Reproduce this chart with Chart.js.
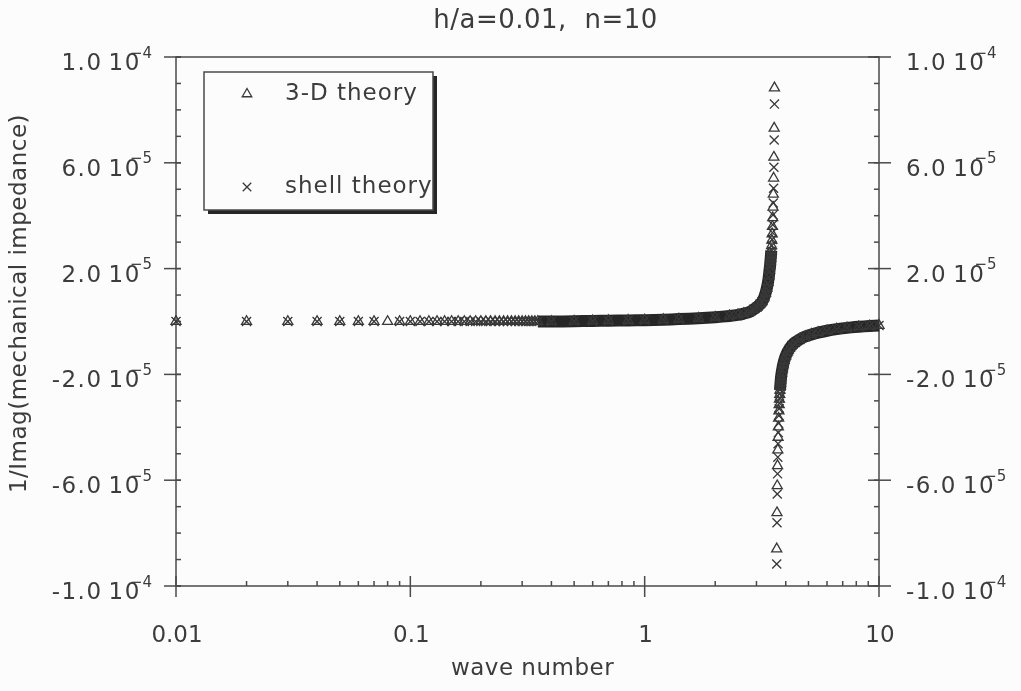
<!DOCTYPE html>
<html>
<head>
<meta charset="utf-8">
<script src="https://cdn.jsdelivr.net/npm/chart.js@4.4.1/dist/chart.umd.min.js"></script>
<style>
  html, body { margin: 0; padding: 0; background: #fcfcfc; }
  #caja { width: 1021px; height: 691px; }
</style>
</head>
<body>
<div id="caja"><canvas id="grafica"></canvas></div>
<script>
// textos
const titulo = 'h/a=0.01,  n=10';
const tituloX = 'wave number';
const tituloY = '1/Imag(mechanical impedance)';
const nombres = ['3-D theory', 'shell theory'];

// numero de onda (eje x, log)
const waveNumber = [
  0.01, 0.02, 0.03, 0.04, 0.05, 0.06, 0.07, 0.08, 0.09, 0.10,
  0.11, 0.12, 0.13, 0.14, 0.15, 0.16, 0.17, 0.18, 0.19, 0.20,
  0.21, 0.22, 0.23, 0.24, 0.25, 0.26, 0.27, 0.28, 0.29, 0.30,
  0.31, 0.32, 0.33, 0.34, 0.35,
  0.40, 0.50, 0.60, 0.70, 0.85, 1.0, 1.2, 1.4, 1.7, 2.0,
  2.3, 2.5, 2.65, 2.8, 2.92, 3.02, 3.10, 3.17, 3.23, 3.28,
  3.32, 3.36, 3.39, 3.41, 3.43,
  3.44, 3.45, 3.46, 3.47, 3.48, 3.49, 3.50, 3.51, 3.52, 3.53,
  3.54, 3.55, 3.56, 3.57, 3.58,
  3.66, 3.67, 3.68, 3.69, 3.70, 3.71, 3.72, 3.73, 3.74, 3.75,
  3.76, 3.77, 3.78, 3.79, 3.80, 3.81,
  3.82, 3.84, 3.87, 3.90, 3.94, 4.00, 4.07, 4.15, 4.25, 4.40,
  4.60, 4.85, 5.15, 5.5, 6.0, 6.6, 7.3, 8.2, 9.1, 10
];

const theory3D = [
  0, 0, 0, 0, 0, 0, 0, 0, 0, 0,
  0, 0, 0, 0, 0, 0, 0, 0, 0, 0,
  0, 0, 0, 0, 0, 0, 0, 0, 0, 0,
  0, 0, 0, 0, 0,
  0, 1e-7, 2e-7, 3e-7, 4e-7, 5e-7, 7e-7, 9e-7, 1.2e-6, 1.6e-6,
  2.1e-6, 2.5e-6, 3.0e-6, 3.6e-6, 4.6e-6, 5.5e-6, 6.5e-6, 7.5e-6, 9.0e-6, 1.07e-5,
  1.25e-5, 1.48e-5, 1.72e-5, 1.93e-5, 2.12e-5,
  2.26e-5, 2.38e-5, 2.53e-5, 2.68e-5, 2.87e-5, 3.07e-5, 3.31e-5, 3.59e-5, 3.92e-5, 4.32e-5,
  4.81e-5, 5.42e-5, 6.21e-5, 7.31e-5, 8.83e-5,
  -8.60e-5, -7.23e-5, -6.21e-5, -5.45e-5, -4.86e-5, -4.38e-5, -3.99e-5, -3.66e-5, -3.38e-5, -3.15e-5,
  -2.94e-5, -2.76e-5, -2.60e-5, -2.45e-5, -2.33e-5, -2.21e-5,
  -2.10e-5, -1.95e-5, -1.78e-5, -1.63e-5, -1.47e-5, -1.30e-5, -1.15e-5, -1.02e-5, -9.0e-6, -7.8e-6,
  -6.7e-6, -5.7e-6, -4.9e-6, -4.2e-6, -3.5e-6, -2.9e-6, -2.4e-6, -2.0e-6, -1.7e-6, -1.5e-6
];

const shellTheory = [
  0, 0, 0, 0, 0, 0, 0, null, 0, 0,
  0, 0, 0, 0, 0, 0, 0, 0, 0, 0,
  0, 0, 0, 0, 0, 0, 0, 0, 0, 0,
  0, 0, 0, 0, 0,
  0, 1e-7, 2e-7, 3e-7, 4e-7, 5e-7, 7e-7, 9e-7, 1.2e-6, 1.6e-6,
  2.1e-6, 2.5e-6, 3.0e-6, 3.6e-6, 4.6e-6, 5.5e-6, 6.5e-6, 7.5e-6, 9.0e-6, 1.07e-5,
  1.25e-5, 1.45e-5, 1.68e-5, 1.88e-5, 2.05e-5,
  2.12e-5, 2.23e-5, 2.36e-5, 2.51e-5, 2.68e-5, 2.87e-5, 3.10e-5, 3.36e-5, 3.66e-5, 4.03e-5,
  4.48e-5, 5.04e-5, 5.83e-5, 6.86e-5, 8.22e-5,
  -9.17e-5, -7.61e-5, -6.52e-5, -5.76e-5, -5.13e-5, -4.62e-5, -4.20e-5, -3.85e-5, -3.56e-5, -3.30e-5,
  -3.09e-5, -2.89e-5, -2.72e-5, -2.57e-5, -2.44e-5, -2.32e-5,
  -2.20e-5, -2.03e-5, -1.84e-5, -1.68e-5, -1.51e-5, -1.33e-5, -1.17e-5, -1.04e-5, -9.1e-6, -7.9e-6,
  -6.8e-6, -5.8e-6, -4.9e-6, -4.2e-6, -3.5e-6, -2.9e-6, -2.4e-6, -2.0e-6, -1.7e-6, -1.5e-6
];

// marcas de los ejes
const xTicks = [0.01, 0.1, 1, 10];
const xTickLabels = ['0.01', '0.1', '1', '10'];
const yTicks = [-1e-4, -6e-5, -2e-5, 2e-5, 6e-5, 1e-4];
const yTickMant = ['-1.0', '-6.0', '-2.0', '2.0', '6.0', '1.0'];
const yTickExp = ['-4', '-5', '-5', '-5', '-5', '-4'];

const FUENTE = '"DejaVu Sans", sans-serif';
const TINTA = '#3c3c3c';
const LINEA = '#4a4a4a';
const BANDA = '#262626';
const MARCA = '#383838';
const NADA = 'rgba(0,0,0,0)';

Chart.defaults.font.family = FUENTE;

function puntos(ys) {
  return waveNumber.map((x, i) => ({ x: x, y: ys[i] }));
}

// donde los marcadores se amontonan se ve una banda continua
function banda(ys) {
  return waveNumber.map((x, i) => ({
    x: x,
    y: (x >= 0.35 && ys[i] !== null && Math.abs(ys[i]) <= 2.7e-5) ? ys[i] : null
  }));
}

function serie(nombre, ys, estilo, radio) {
  return {
    label: nombre,
    data: puntos(ys),
    showLine: false,
    order: 0,
    pointStyle: estilo,
    pointRadius: radio,
    pointBorderWidth: 1.3,
    pointBorderColor: MARCA,
    pointBackgroundColor: NADA,
    clip: false
  };
}

function linea(ctx, x1, y1, x2, y2) {
  ctx.beginPath();
  ctx.moveTo(x1, y1);
  ctx.lineTo(x2, y2);
  ctx.stroke();
}

function etiquetaY(ctx, mant, exp, py, xIzq, xDer) {
  const principal = mant + '\u2009' + '10';
  const sup = exp.replace('-', '\u2212');
  ctx.letterSpacing = '1.5px';
  ctx.font = '23px ' + FUENTE;
  const w1 = ctx.measureText(principal).width;
  ctx.letterSpacing = '0px';
  ctx.font = '15px ' + FUENTE;
  const w2 = ctx.measureText(sup).width;
  const total = w1 + w2 - 11;
  const x0 = xIzq !== null ? xIzq - total : xDer;
  ctx.textAlign = 'left';
  ctx.textBaseline = 'alphabetic';
  ctx.letterSpacing = '1.5px';
  ctx.font = '23px ' + FUENTE;
  ctx.fillText(principal, x0, py + 13);
  ctx.letterSpacing = '0px';
  ctx.font = '15px ' + FUENTE;
  ctx.fillText(sup, x0 + w1 - 11, py + 0.5);
}

function marcador(ctx, estilo, radio, x, y) {
  ctx.strokeStyle = MARCA;
  ctx.fillStyle = NADA;
  ctx.lineWidth = 1.3;
  if (Chart.helpers && Chart.helpers.drawPoint) {
    Chart.helpers.drawPoint(ctx, { pointStyle: estilo, radius: radio, borderWidth: 1.3, rotation: 0 }, x, y);
  }
}

const marco = {
  id: 'marco',
  beforeDatasetsDraw(chart) {
    const { ctx, chartArea: a, scales } = chart;
    const sx = scales.x, sy = scales.y;
    ctx.save();
    ctx.strokeStyle = LINEA;
    ctx.lineWidth = 1.5;
    ctx.strokeRect(a.left, a.top, a.right - a.left, a.bottom - a.top);

    // menores del eje y cada 1e-5
    for (let i = -10; i <= 10; i++) {
      const py = sy.getPixelForValue(i * 1e-5);
      linea(ctx, a.left, py, a.left + 5, py);
      linea(ctx, a.right - 5, py, a.right, py);
    }
    yTicks.forEach(v => {
      const py = sy.getPixelForValue(v);
      linea(ctx, a.left - 12, py, a.left + 5, py);
      linea(ctx, a.right - 11, py, a.right + 12, py);
    });
    // menores del eje x
    [0.01, 0.1, 1].forEach(d => {
      for (let m = 2; m <= 9; m++) {
        const px = sx.getPixelForValue(m * d);
        linea(ctx, px, a.bottom - 5, px, a.bottom);
      }
    });
    xTicks.forEach(v => {
      const px = sx.getPixelForValue(v);
      linea(ctx, px, a.bottom - 10, px, a.bottom + 11);
    });
    ctx.restore();
  },
  afterDraw(chart) {
    const { ctx, chartArea: a, scales } = chart;
    const sx = scales.x, sy = scales.y;
    ctx.save();
    ctx.fillStyle = TINTA;

    // etiquetas y
    yTicks.forEach((v, i) => {
      const py = sy.getPixelForValue(v);
      etiquetaY(ctx, yTickMant[i], yTickExp[i], py, a.left - 24, null);
      etiquetaY(ctx, yTickMant[i], yTickExp[i], py, null, a.right + 27);
    });
    // etiquetas x
    ctx.letterSpacing = '0px';
    ctx.font = '23px ' + FUENTE;
    ctx.textAlign = 'center';
    ctx.textBaseline = 'middle';
    xTicks.forEach((v, i) => {
      ctx.fillText(xTickLabels[i], sx.getPixelForValue(v) + 1, a.bottom + 50);
    });

    // titulos
    ctx.letterSpacing = '0.5px';
    ctx.fillText(tituloX, (a.left + a.right) / 2 + 5, a.bottom + 83);
    ctx.save();
    ctx.translate(20, (a.top + a.bottom) / 2 - 18);
    ctx.rotate(-Math.PI / 2);
    ctx.fillText(tituloY, 0, 0);
    ctx.restore();
    ctx.font = '26px ' + FUENTE;
    ctx.fillText(titulo, (a.left + a.right) / 2 + 18, 21);

    // leyenda con sombra
    const lx = a.left + 28, ly = a.top + 15, lw = 229, lh = 138;
    ctx.fillStyle = '#262626';
    ctx.fillRect(lx + 4, ly + 4, lw, lh);
    ctx.fillStyle = '#fcfcfc';
    ctx.fillRect(lx, ly, lw, lh);
    ctx.strokeStyle = LINEA;
    ctx.lineWidth = 1.5;
    ctx.strokeRect(lx, ly, lw, lh);

    marcador(ctx, 'triangle', 5.5, lx + 43, ly + 22);
    marcador(ctx, 'crossRot', 6, lx + 43, ly + 115);
    ctx.fillStyle = TINTA;
    ctx.font = '23px ' + FUENTE;
    ctx.letterSpacing = '1px';
    ctx.textAlign = 'left';
    ctx.fillText(nombres[0], lx + 81, ly + 22);
    ctx.fillText(nombres[1], lx + 81, ly + 115);
    ctx.restore();
  }
};

new Chart(document.getElementById('grafica'), {
  type: 'line',
  data: {
    datasets: [
      serie(nombres[0], theory3D, 'triangle', 5.8),
      serie(nombres[1], shellTheory, 'crossRot', 6.4),
      {
        label: 'banda',
        data: banda(theory3D),
        order: 5,
        borderColor: BANDA,
        borderWidth: 12,
        borderJoinStyle: 'round',
        tension: 0.2,
        spanGaps: false,
        fill: false,
        pointRadius: 0,
        clip: false
      }
    ]
  },
  options: {
    responsive: true,
    maintainAspectRatio: false,
    animation: false,
    events: [],
    layout: { padding: { left: 176, right: 142, top: 57, bottom: 105 } },
    scales: {
      x: { type: 'logarithmic', min: 0.01, max: 10, display: false },
      y: { type: 'linear', min: -1e-4, max: 1e-4, display: false }
    },
    plugins: {
      legend: { display: false },
      tooltip: { enabled: false }
    }
  },
  plugins: [marco]
});
</script>
</body>
</html>
